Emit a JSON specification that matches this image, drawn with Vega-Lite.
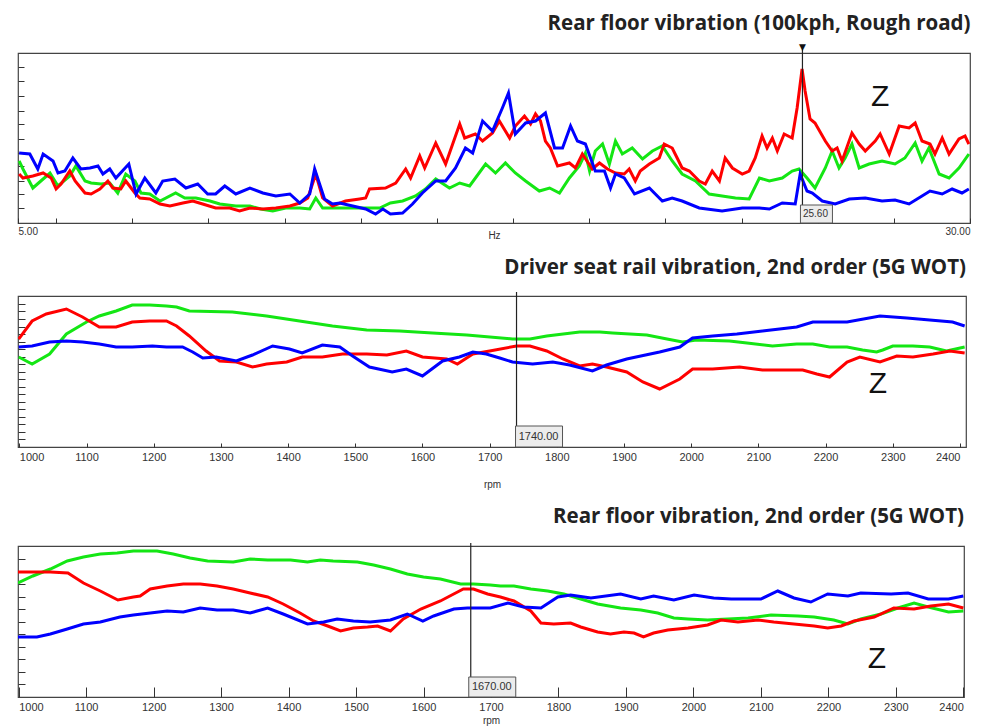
{
"$schema": "https://vega.github.io/schema/vega-lite/v6.json",
"padding": {"left": 16, "right": 10, "top": 12, "bottom": 0},
"background": "white",
"config": {
  "view": {"stroke": "#444", "strokeWidth": 1.2},
  "axis": {"domain": false, "grid": false, "tickColor": "#333", "tickRound": true, "labelFont": "Liberation Sans", "labelFontSize": 11, "labelColor": "#333", "titleFont": "Liberation Sans", "titleFontSize": 10, "titleFontWeight": "normal", "titleColor": "#333"},
  "title": {"anchor": "end", "font": "Open Sans", "fontSize": 20.5, "fontWeight": "bold", "color": "#222", "offset": 13},
  "concat": {"spacing": 16}
},
"datasets": {
"p1": [
{"hz":5.03,"a":62,"ch":"G"},{"hz":5.13,"a":54,"ch":"G"},{"hz":5.39,"a":35,"ch":"G"},{"hz":5.60,"a":42,"ch":"G"},{"hz":5.84,"a":50,"ch":"G"},{"hz":6.05,"a":37,"ch":"G"},{"hz":6.36,"a":47,"ch":"G"},{"hz":6.52,"a":57,"ch":"G"},{"hz":6.76,"a":42,"ch":"G"},{"hz":6.92,"a":40,"ch":"G"},{"hz":7.18,"a":39,"ch":"G"},{"hz":7.41,"a":40,"ch":"G"},{"hz":7.62,"a":30,"ch":"G"},{"hz":7.83,"a":49,"ch":"G"},{"hz":8.07,"a":42,"ch":"G"},{"hz":8.23,"a":30,"ch":"G"},{"hz":8.46,"a":29,"ch":"G"},{"hz":8.73,"a":22,"ch":"G"},{"hz":9.14,"a":30,"ch":"G"},{"hz":9.38,"a":25,"ch":"G"},{"hz":9.67,"a":25,"ch":"G"},{"hz":10.04,"a":22,"ch":"G"},{"hz":10.30,"a":19,"ch":"G"},{"hz":10.72,"a":17,"ch":"G"},{"hz":11.09,"a":17,"ch":"G"},{"hz":11.37,"a":14,"ch":"G"},{"hz":11.69,"a":12,"ch":"G"},{"hz":12.03,"a":15,"ch":"G"},{"hz":12.40,"a":15,"ch":"G"},{"hz":12.66,"a":14,"ch":"G"},{"hz":12.82,"a":25,"ch":"G"},{"hz":13.00,"a":15,"ch":"G"},{"hz":13.34,"a":15,"ch":"G"},{"hz":13.71,"a":15,"ch":"G"},{"hz":14.13,"a":15,"ch":"G"},{"hz":14.50,"a":15,"ch":"G"},{"hz":14.78,"a":20,"ch":"G"},{"hz":15.10,"a":22,"ch":"G"},{"hz":15.44,"a":27,"ch":"G"},{"hz":15.70,"a":34,"ch":"G"},{"hz":15.97,"a":44,"ch":"G"},{"hz":16.33,"a":35,"ch":"G"},{"hz":16.60,"a":40,"ch":"G"},{"hz":16.86,"a":37,"ch":"G"},{"hz":17.28,"a":59,"ch":"G"},{"hz":17.54,"a":50,"ch":"G"},{"hz":17.80,"a":60,"ch":"G"},{"hz":18.06,"a":50,"ch":"G"},{"hz":18.33,"a":42,"ch":"G"},{"hz":18.69,"a":32,"ch":"G"},{"hz":18.96,"a":35,"ch":"G"},{"hz":19.22,"a":30,"ch":"G"},{"hz":19.48,"a":45,"ch":"G"},{"hz":19.74,"a":57,"ch":"G"},{"hz":19.90,"a":70,"ch":"G"},{"hz":20.01,"a":52,"ch":"G"},{"hz":20.16,"a":72,"ch":"G"},{"hz":20.35,"a":79,"ch":"G"},{"hz":20.53,"a":59,"ch":"G"},{"hz":20.69,"a":82,"ch":"G"},{"hz":20.87,"a":69,"ch":"G"},{"hz":21.13,"a":75,"ch":"G"},{"hz":21.40,"a":64,"ch":"G"},{"hz":21.66,"a":72,"ch":"G"},{"hz":21.92,"a":77,"ch":"G"},{"hz":22.18,"a":62,"ch":"G"},{"hz":22.44,"a":49,"ch":"G"},{"hz":22.79,"a":42,"ch":"G"},{"hz":23.15,"a":29,"ch":"G"},{"hz":23.49,"a":27,"ch":"G"},{"hz":23.84,"a":25,"ch":"G"},{"hz":24.20,"a":24,"ch":"G"},{"hz":24.47,"a":45,"ch":"G"},{"hz":24.73,"a":42,"ch":"G"},{"hz":25.07,"a":45,"ch":"G"},{"hz":25.33,"a":52,"ch":"G"},{"hz":25.51,"a":54,"ch":"G"},{"hz":25.72,"a":45,"ch":"G"},{"hz":25.93,"a":35,"ch":"G"},{"hz":26.20,"a":55,"ch":"G"},{"hz":26.38,"a":72,"ch":"G"},{"hz":26.56,"a":55,"ch":"G"},{"hz":26.72,"a":65,"ch":"G"},{"hz":26.90,"a":79,"ch":"G"},{"hz":27.09,"a":55,"ch":"G"},{"hz":27.35,"a":59,"ch":"G"},{"hz":27.69,"a":62,"ch":"G"},{"hz":28.03,"a":59,"ch":"G"},{"hz":28.29,"a":65,"ch":"G"},{"hz":28.56,"a":80,"ch":"G"},{"hz":28.74,"a":62,"ch":"G"},{"hz":28.92,"a":75,"ch":"G"},{"hz":29.19,"a":49,"ch":"G"},{"hz":29.45,"a":45,"ch":"G"},{"hz":29.71,"a":55,"ch":"G"},{"hz":29.97,"a":69,"ch":"G"},
{"hz":5.03,"a":49,"ch":"R"},{"hz":5.13,"a":45,"ch":"R"},{"hz":5.39,"a":47,"ch":"R"},{"hz":5.66,"a":50,"ch":"R"},{"hz":5.87,"a":45,"ch":"R"},{"hz":6.00,"a":34,"ch":"R"},{"hz":6.13,"a":39,"ch":"R"},{"hz":6.36,"a":52,"ch":"R"},{"hz":6.50,"a":42,"ch":"R"},{"hz":6.76,"a":30,"ch":"R"},{"hz":6.92,"a":29,"ch":"R"},{"hz":7.15,"a":34,"ch":"R"},{"hz":7.36,"a":42,"ch":"R"},{"hz":7.49,"a":35,"ch":"R"},{"hz":7.70,"a":34,"ch":"R"},{"hz":7.83,"a":42,"ch":"R"},{"hz":8.07,"a":30,"ch":"R"},{"hz":8.20,"a":25,"ch":"R"},{"hz":8.46,"a":24,"ch":"R"},{"hz":8.73,"a":19,"ch":"R"},{"hz":8.99,"a":17,"ch":"R"},{"hz":9.33,"a":20,"ch":"R"},{"hz":9.59,"a":22,"ch":"R"},{"hz":9.85,"a":19,"ch":"R"},{"hz":10.19,"a":15,"ch":"R"},{"hz":10.56,"a":15,"ch":"R"},{"hz":10.82,"a":12,"ch":"R"},{"hz":11.09,"a":15,"ch":"R"},{"hz":11.43,"a":14,"ch":"R"},{"hz":11.77,"a":15,"ch":"R"},{"hz":12.14,"a":17,"ch":"R"},{"hz":12.40,"a":20,"ch":"R"},{"hz":12.61,"a":25,"ch":"R"},{"hz":12.82,"a":49,"ch":"R"},{"hz":13.00,"a":25,"ch":"R"},{"hz":13.26,"a":17,"ch":"R"},{"hz":13.60,"a":22,"ch":"R"},{"hz":13.97,"a":24,"ch":"R"},{"hz":14.13,"a":25,"ch":"R"},{"hz":14.23,"a":34,"ch":"R"},{"hz":14.65,"a":35,"ch":"R"},{"hz":14.92,"a":40,"ch":"R"},{"hz":15.18,"a":54,"ch":"R"},{"hz":15.31,"a":45,"ch":"R"},{"hz":15.55,"a":67,"ch":"R"},{"hz":15.68,"a":55,"ch":"R"},{"hz":15.97,"a":80,"ch":"R"},{"hz":16.23,"a":59,"ch":"R"},{"hz":16.60,"a":99,"ch":"R"},{"hz":16.73,"a":85,"ch":"R"},{"hz":17.01,"a":89,"ch":"R"},{"hz":17.20,"a":82,"ch":"R"},{"hz":17.46,"a":90,"ch":"R"},{"hz":17.64,"a":102,"ch":"R"},{"hz":17.91,"a":85,"ch":"R"},{"hz":18.06,"a":97,"ch":"R"},{"hz":18.30,"a":107,"ch":"R"},{"hz":18.46,"a":99,"ch":"R"},{"hz":18.59,"a":109,"ch":"R"},{"hz":18.72,"a":102,"ch":"R"},{"hz":18.85,"a":82,"ch":"R"},{"hz":18.98,"a":75,"ch":"R"},{"hz":19.17,"a":57,"ch":"R"},{"hz":19.48,"a":60,"ch":"R"},{"hz":19.64,"a":55,"ch":"R"},{"hz":19.82,"a":69,"ch":"R"},{"hz":20.08,"a":54,"ch":"R"},{"hz":20.27,"a":60,"ch":"R"},{"hz":20.48,"a":54,"ch":"R"},{"hz":20.69,"a":50,"ch":"R"},{"hz":20.92,"a":49,"ch":"R"},{"hz":21.05,"a":54,"ch":"R"},{"hz":21.21,"a":42,"ch":"R"},{"hz":21.34,"a":52,"ch":"R"},{"hz":21.58,"a":59,"ch":"R"},{"hz":21.84,"a":65,"ch":"R"},{"hz":21.97,"a":79,"ch":"R"},{"hz":22.18,"a":75,"ch":"R"},{"hz":22.31,"a":65,"ch":"R"},{"hz":22.44,"a":55,"ch":"R"},{"hz":22.63,"a":52,"ch":"R"},{"hz":22.89,"a":42,"ch":"R"},{"hz":23.05,"a":39,"ch":"R"},{"hz":23.23,"a":52,"ch":"R"},{"hz":23.42,"a":42,"ch":"R"},{"hz":23.57,"a":65,"ch":"R"},{"hz":23.76,"a":55,"ch":"R"},{"hz":24.02,"a":49,"ch":"R"},{"hz":24.20,"a":52,"ch":"R"},{"hz":24.36,"a":65,"ch":"R"},{"hz":24.54,"a":87,"ch":"R"},{"hz":24.67,"a":75,"ch":"R"},{"hz":24.81,"a":85,"ch":"R"},{"hz":24.94,"a":72,"ch":"R"},{"hz":25.12,"a":89,"ch":"R"},{"hz":25.33,"a":85,"ch":"R"},{"hz":25.46,"a":115,"ch":"R"},{"hz":25.59,"a":154,"ch":"R"},{"hz":25.67,"a":132,"ch":"R"},{"hz":25.80,"a":104,"ch":"R"},{"hz":25.93,"a":100,"ch":"R"},{"hz":26.20,"a":82,"ch":"R"},{"hz":26.38,"a":72,"ch":"R"},{"hz":26.51,"a":75,"ch":"R"},{"hz":26.64,"a":62,"ch":"R"},{"hz":26.90,"a":90,"ch":"R"},{"hz":27.09,"a":79,"ch":"R"},{"hz":27.25,"a":72,"ch":"R"},{"hz":27.51,"a":82,"ch":"R"},{"hz":27.64,"a":89,"ch":"R"},{"hz":27.88,"a":69,"ch":"R"},{"hz":28.14,"a":97,"ch":"R"},{"hz":28.40,"a":95,"ch":"R"},{"hz":28.56,"a":100,"ch":"R"},{"hz":28.74,"a":82,"ch":"R"},{"hz":28.95,"a":79,"ch":"R"},{"hz":29.08,"a":69,"ch":"R"},{"hz":29.27,"a":85,"ch":"R"},{"hz":29.45,"a":69,"ch":"R"},{"hz":29.71,"a":84,"ch":"R"},{"hz":29.87,"a":87,"ch":"R"},{"hz":29.97,"a":79,"ch":"R"},
{"hz":5.03,"a":70,"ch":"B"},{"hz":5.31,"a":69,"ch":"B"},{"hz":5.52,"a":54,"ch":"B"},{"hz":5.66,"a":69,"ch":"B"},{"hz":5.92,"a":62,"ch":"B"},{"hz":6.05,"a":50,"ch":"B"},{"hz":6.23,"a":52,"ch":"B"},{"hz":6.44,"a":65,"ch":"B"},{"hz":6.65,"a":54,"ch":"B"},{"hz":6.89,"a":55,"ch":"B"},{"hz":7.10,"a":57,"ch":"B"},{"hz":7.23,"a":49,"ch":"B"},{"hz":7.41,"a":54,"ch":"B"},{"hz":7.57,"a":45,"ch":"B"},{"hz":7.91,"a":59,"ch":"B"},{"hz":8.10,"a":29,"ch":"B"},{"hz":8.33,"a":45,"ch":"B"},{"hz":8.62,"a":30,"ch":"B"},{"hz":8.80,"a":42,"ch":"B"},{"hz":9.12,"a":44,"ch":"B"},{"hz":9.41,"a":35,"ch":"B"},{"hz":9.72,"a":39,"ch":"B"},{"hz":9.98,"a":29,"ch":"B"},{"hz":10.19,"a":29,"ch":"B"},{"hz":10.43,"a":37,"ch":"B"},{"hz":10.72,"a":29,"ch":"B"},{"hz":11.09,"a":35,"ch":"B"},{"hz":11.43,"a":30,"ch":"B"},{"hz":11.77,"a":27,"ch":"B"},{"hz":12.14,"a":29,"ch":"B"},{"hz":12.40,"a":20,"ch":"B"},{"hz":12.66,"a":29,"ch":"B"},{"hz":12.79,"a":54,"ch":"B"},{"hz":12.92,"a":39,"ch":"B"},{"hz":13.05,"a":24,"ch":"B"},{"hz":13.26,"a":19,"ch":"B"},{"hz":13.45,"a":20,"ch":"B"},{"hz":13.79,"a":17,"ch":"B"},{"hz":14.13,"a":14,"ch":"B"},{"hz":14.39,"a":9,"ch":"B"},{"hz":14.58,"a":14,"ch":"B"},{"hz":14.78,"a":9,"ch":"B"},{"hz":15.10,"a":10,"ch":"B"},{"hz":15.36,"a":19,"ch":"B"},{"hz":15.62,"a":30,"ch":"B"},{"hz":15.97,"a":42,"ch":"B"},{"hz":16.23,"a":42,"ch":"B"},{"hz":16.49,"a":55,"ch":"B"},{"hz":16.75,"a":75,"ch":"B"},{"hz":16.94,"a":70,"ch":"B"},{"hz":17.20,"a":102,"ch":"B"},{"hz":17.46,"a":92,"ch":"B"},{"hz":17.72,"a":115,"ch":"B"},{"hz":17.88,"a":130,"ch":"B"},{"hz":18.06,"a":89,"ch":"B"},{"hz":18.33,"a":100,"ch":"B"},{"hz":18.59,"a":102,"ch":"B"},{"hz":18.85,"a":110,"ch":"B"},{"hz":19.09,"a":75,"ch":"B"},{"hz":19.30,"a":75,"ch":"B"},{"hz":19.51,"a":97,"ch":"B"},{"hz":19.69,"a":82,"ch":"B"},{"hz":19.90,"a":79,"ch":"B"},{"hz":20.16,"a":52,"ch":"B"},{"hz":20.40,"a":52,"ch":"B"},{"hz":20.56,"a":35,"ch":"B"},{"hz":20.69,"a":49,"ch":"B"},{"hz":20.92,"a":45,"ch":"B"},{"hz":21.19,"a":29,"ch":"B"},{"hz":21.58,"a":35,"ch":"B"},{"hz":21.92,"a":22,"ch":"B"},{"hz":22.18,"a":25,"ch":"B"},{"hz":22.44,"a":22,"ch":"B"},{"hz":22.89,"a":15,"ch":"B"},{"hz":23.49,"a":12,"ch":"B"},{"hz":24.02,"a":15,"ch":"B"},{"hz":24.47,"a":15,"ch":"B"},{"hz":24.73,"a":14,"ch":"B"},{"hz":25.07,"a":20,"ch":"B"},{"hz":25.41,"a":19,"ch":"B"},{"hz":25.54,"a":49,"ch":"B"},{"hz":25.72,"a":32,"ch":"B"},{"hz":25.86,"a":30,"ch":"B"},{"hz":26.12,"a":22,"ch":"B"},{"hz":26.46,"a":19,"ch":"B"},{"hz":26.83,"a":24,"ch":"B"},{"hz":27.25,"a":25,"ch":"B"},{"hz":27.69,"a":22,"ch":"B"},{"hz":28.03,"a":23,"ch":"B"},{"hz":28.40,"a":19,"ch":"B"},{"hz":28.74,"a":27,"ch":"B"},{"hz":28.95,"a":32,"ch":"B"},{"hz":29.27,"a":29,"ch":"B"},{"hz":29.53,"a":34,"ch":"B"},{"hz":29.79,"a":30,"ch":"B"},{"hz":29.97,"a":34,"ch":"B"}
],
"p2": [
{"rpm":999,"a":90,"ch":"G"},{"rpm":1019,"a":83,"ch":"G"},{"rpm":1045,"a":93,"ch":"G"},{"rpm":1070,"a":113,"ch":"G"},{"rpm":1100,"a":125,"ch":"G"},{"rpm":1119,"a":131,"ch":"G"},{"rpm":1144,"a":136,"ch":"G"},{"rpm":1168,"a":142,"ch":"G"},{"rpm":1194,"a":142,"ch":"G"},{"rpm":1219,"a":141,"ch":"G"},{"rpm":1234,"a":140,"ch":"G"},{"rpm":1253,"a":136,"ch":"G"},{"rpm":1317,"a":135,"ch":"G"},{"rpm":1368,"a":131,"ch":"G"},{"rpm":1417,"a":126,"ch":"G"},{"rpm":1466,"a":121,"ch":"G"},{"rpm":1517,"a":117,"ch":"G"},{"rpm":1566,"a":116,"ch":"G"},{"rpm":1615,"a":114,"ch":"G"},{"rpm":1666,"a":112,"ch":"G"},{"rpm":1734,"a":108,"ch":"G"},{"rpm":1760,"a":108,"ch":"G"},{"rpm":1785,"a":111,"ch":"G"},{"rpm":1834,"a":115,"ch":"G"},{"rpm":1864,"a":115,"ch":"G"},{"rpm":1883,"a":114,"ch":"G"},{"rpm":1934,"a":112,"ch":"G"},{"rpm":1964,"a":108,"ch":"G"},{"rpm":1987,"a":105,"ch":"G"},{"rpm":2008,"a":107,"ch":"G"},{"rpm":2057,"a":106,"ch":"G"},{"rpm":2083,"a":104,"ch":"G"},{"rpm":2121,"a":101,"ch":"G"},{"rpm":2157,"a":103,"ch":"G"},{"rpm":2181,"a":103,"ch":"G"},{"rpm":2206,"a":100,"ch":"G"},{"rpm":2232,"a":100,"ch":"G"},{"rpm":2255,"a":97,"ch":"G"},{"rpm":2276,"a":95,"ch":"G"},{"rpm":2285,"a":97,"ch":"G"},{"rpm":2300,"a":101,"ch":"G"},{"rpm":2330,"a":101,"ch":"G"},{"rpm":2355,"a":100,"ch":"G"},{"rpm":2380,"a":96,"ch":"G"},{"rpm":2407,"a":100,"ch":"G"},
{"rpm":999,"a":108,"ch":"R"},{"rpm":1019,"a":126,"ch":"R"},{"rpm":1040,"a":133,"ch":"R"},{"rpm":1070,"a":138,"ch":"R"},{"rpm":1094,"a":130,"ch":"R"},{"rpm":1119,"a":120,"ch":"R"},{"rpm":1144,"a":120,"ch":"R"},{"rpm":1168,"a":125,"ch":"R"},{"rpm":1194,"a":126,"ch":"R"},{"rpm":1219,"a":126,"ch":"R"},{"rpm":1234,"a":121,"ch":"R"},{"rpm":1253,"a":111,"ch":"R"},{"rpm":1278,"a":96,"ch":"R"},{"rpm":1298,"a":86,"ch":"R"},{"rpm":1323,"a":85,"ch":"R"},{"rpm":1347,"a":80,"ch":"R"},{"rpm":1368,"a":83,"ch":"R"},{"rpm":1398,"a":85,"ch":"R"},{"rpm":1421,"a":90,"ch":"R"},{"rpm":1451,"a":90,"ch":"R"},{"rpm":1481,"a":93,"ch":"R"},{"rpm":1517,"a":93,"ch":"R"},{"rpm":1547,"a":92,"ch":"R"},{"rpm":1576,"a":96,"ch":"R"},{"rpm":1600,"a":90,"ch":"R"},{"rpm":1636,"a":88,"ch":"R"},{"rpm":1652,"a":83,"ch":"R"},{"rpm":1675,"a":93,"ch":"R"},{"rpm":1700,"a":96,"ch":"R"},{"rpm":1740,"a":101,"ch":"R"},{"rpm":1760,"a":101,"ch":"R"},{"rpm":1785,"a":96,"ch":"R"},{"rpm":1809,"a":88,"ch":"R"},{"rpm":1834,"a":81,"ch":"R"},{"rpm":1853,"a":83,"ch":"R"},{"rpm":1874,"a":80,"ch":"R"},{"rpm":1904,"a":75,"ch":"R"},{"rpm":1928,"a":65,"ch":"R"},{"rpm":1953,"a":58,"ch":"R"},{"rpm":1983,"a":68,"ch":"R"},{"rpm":2002,"a":78,"ch":"R"},{"rpm":2032,"a":78,"ch":"R"},{"rpm":2072,"a":80,"ch":"R"},{"rpm":2106,"a":77,"ch":"R"},{"rpm":2132,"a":77,"ch":"R"},{"rpm":2166,"a":77,"ch":"R"},{"rpm":2187,"a":73,"ch":"R"},{"rpm":2206,"a":70,"ch":"R"},{"rpm":2232,"a":85,"ch":"R"},{"rpm":2251,"a":90,"ch":"R"},{"rpm":2281,"a":85,"ch":"R"},{"rpm":2306,"a":91,"ch":"R"},{"rpm":2330,"a":90,"ch":"R"},{"rpm":2360,"a":93,"ch":"R"},{"rpm":2385,"a":96,"ch":"R"},{"rpm":2407,"a":94,"ch":"R"},
{"rpm":999,"a":100,"ch":"B"},{"rpm":1019,"a":101,"ch":"B"},{"rpm":1045,"a":105,"ch":"B"},{"rpm":1070,"a":106,"ch":"B"},{"rpm":1094,"a":105,"ch":"B"},{"rpm":1119,"a":103,"ch":"B"},{"rpm":1144,"a":100,"ch":"B"},{"rpm":1168,"a":100,"ch":"B"},{"rpm":1198,"a":101,"ch":"B"},{"rpm":1219,"a":100,"ch":"B"},{"rpm":1243,"a":100,"ch":"B"},{"rpm":1258,"a":95,"ch":"B"},{"rpm":1273,"a":89,"ch":"B"},{"rpm":1293,"a":90,"ch":"B"},{"rpm":1323,"a":86,"ch":"B"},{"rpm":1347,"a":92,"ch":"B"},{"rpm":1377,"a":101,"ch":"B"},{"rpm":1402,"a":98,"ch":"B"},{"rpm":1421,"a":94,"ch":"B"},{"rpm":1451,"a":102,"ch":"B"},{"rpm":1477,"a":100,"ch":"B"},{"rpm":1496,"a":91,"ch":"B"},{"rpm":1521,"a":80,"ch":"B"},{"rpm":1555,"a":75,"ch":"B"},{"rpm":1576,"a":78,"ch":"B"},{"rpm":1600,"a":71,"ch":"B"},{"rpm":1630,"a":86,"ch":"B"},{"rpm":1655,"a":90,"ch":"B"},{"rpm":1675,"a":95,"ch":"B"},{"rpm":1695,"a":93,"ch":"B"},{"rpm":1715,"a":89,"ch":"B"},{"rpm":1734,"a":85,"ch":"B"},{"rpm":1764,"a":83,"ch":"B"},{"rpm":1794,"a":85,"ch":"B"},{"rpm":1819,"a":82,"ch":"B"},{"rpm":1853,"a":76,"ch":"B"},{"rpm":1874,"a":82,"ch":"B"},{"rpm":1904,"a":88,"ch":"B"},{"rpm":1953,"a":95,"ch":"B"},{"rpm":1983,"a":100,"ch":"B"},{"rpm":2002,"a":109,"ch":"B"},{"rpm":2032,"a":111,"ch":"B"},{"rpm":2068,"a":113,"ch":"B"},{"rpm":2106,"a":116,"ch":"B"},{"rpm":2157,"a":120,"ch":"B"},{"rpm":2181,"a":125,"ch":"B"},{"rpm":2232,"a":125,"ch":"B"},{"rpm":2281,"a":131,"ch":"B"},{"rpm":2321,"a":129,"ch":"B"},{"rpm":2355,"a":127,"ch":"B"},{"rpm":2389,"a":125,"ch":"B"},{"rpm":2407,"a":121,"ch":"B"}
],
"p3": [
{"rpm":999,"a":114,"ch":"G"},{"rpm":1021,"a":121,"ch":"G"},{"rpm":1047,"a":128,"ch":"G"},{"rpm":1072,"a":136,"ch":"G"},{"rpm":1096,"a":140,"ch":"G"},{"rpm":1121,"a":143,"ch":"G"},{"rpm":1146,"a":144,"ch":"G"},{"rpm":1170,"a":146,"ch":"G"},{"rpm":1205,"a":146,"ch":"G"},{"rpm":1229,"a":143,"ch":"G"},{"rpm":1254,"a":139,"ch":"G"},{"rpm":1280,"a":136,"ch":"G"},{"rpm":1318,"a":135,"ch":"G"},{"rpm":1343,"a":138,"ch":"G"},{"rpm":1369,"a":137,"ch":"G"},{"rpm":1403,"a":137,"ch":"G"},{"rpm":1428,"a":135,"ch":"G"},{"rpm":1447,"a":137,"ch":"G"},{"rpm":1466,"a":136,"ch":"G"},{"rpm":1502,"a":135,"ch":"G"},{"rpm":1526,"a":132,"ch":"G"},{"rpm":1551,"a":128,"ch":"G"},{"rpm":1576,"a":123,"ch":"G"},{"rpm":1600,"a":120,"ch":"G"},{"rpm":1625,"a":118,"ch":"G"},{"rpm":1655,"a":113,"ch":"G"},{"rpm":1674,"a":113,"ch":"G"},{"rpm":1699,"a":112,"ch":"G"},{"rpm":1714,"a":111,"ch":"G"},{"rpm":1734,"a":111,"ch":"G"},{"rpm":1759,"a":108,"ch":"G"},{"rpm":1784,"a":106,"ch":"G"},{"rpm":1808,"a":103,"ch":"G"},{"rpm":1833,"a":98,"ch":"G"},{"rpm":1858,"a":93,"ch":"G"},{"rpm":1892,"a":89,"ch":"G"},{"rpm":1922,"a":87,"ch":"G"},{"rpm":1947,"a":84,"ch":"G"},{"rpm":1971,"a":79,"ch":"G"},{"rpm":1992,"a":78,"ch":"G"},{"rpm":2021,"a":77,"ch":"G"},{"rpm":2051,"a":78,"ch":"G"},{"rpm":2081,"a":79,"ch":"G"},{"rpm":2115,"a":82,"ch":"G"},{"rpm":2155,"a":81,"ch":"G"},{"rpm":2179,"a":80,"ch":"G"},{"rpm":2208,"a":77,"ch":"G"},{"rpm":2229,"a":73,"ch":"G"},{"rpm":2248,"a":78,"ch":"G"},{"rpm":2278,"a":83,"ch":"G"},{"rpm":2303,"a":89,"ch":"G"},{"rpm":2327,"a":94,"ch":"G"},{"rpm":2348,"a":90,"ch":"G"},{"rpm":2378,"a":85,"ch":"G"},{"rpm":2400,"a":86,"ch":"G"},
{"rpm":999,"a":125,"ch":"R"},{"rpm":1021,"a":125,"ch":"R"},{"rpm":1047,"a":125,"ch":"R"},{"rpm":1073,"a":124,"ch":"R"},{"rpm":1096,"a":114,"ch":"R"},{"rpm":1121,"a":106,"ch":"R"},{"rpm":1147,"a":97,"ch":"R"},{"rpm":1170,"a":100,"ch":"R"},{"rpm":1180,"a":101,"ch":"R"},{"rpm":1195,"a":108,"ch":"R"},{"rpm":1220,"a":111,"ch":"R"},{"rpm":1244,"a":113,"ch":"R"},{"rpm":1269,"a":113,"ch":"R"},{"rpm":1294,"a":111,"ch":"R"},{"rpm":1318,"a":108,"ch":"R"},{"rpm":1343,"a":104,"ch":"R"},{"rpm":1369,"a":100,"ch":"R"},{"rpm":1392,"a":93,"ch":"R"},{"rpm":1417,"a":84,"ch":"R"},{"rpm":1437,"a":76,"ch":"R"},{"rpm":1458,"a":71,"ch":"R"},{"rpm":1477,"a":66,"ch":"R"},{"rpm":1496,"a":69,"ch":"R"},{"rpm":1517,"a":70,"ch":"R"},{"rpm":1532,"a":71,"ch":"R"},{"rpm":1551,"a":66,"ch":"R"},{"rpm":1570,"a":78,"ch":"R"},{"rpm":1596,"a":88,"ch":"R"},{"rpm":1625,"a":96,"ch":"R"},{"rpm":1659,"a":108,"ch":"R"},{"rpm":1674,"a":108,"ch":"R"},{"rpm":1695,"a":103,"ch":"R"},{"rpm":1714,"a":100,"ch":"R"},{"rpm":1734,"a":96,"ch":"R"},{"rpm":1759,"a":86,"ch":"R"},{"rpm":1774,"a":74,"ch":"R"},{"rpm":1793,"a":73,"ch":"R"},{"rpm":1818,"a":74,"ch":"R"},{"rpm":1833,"a":70,"ch":"R"},{"rpm":1858,"a":65,"ch":"R"},{"rpm":1877,"a":63,"ch":"R"},{"rpm":1897,"a":65,"ch":"R"},{"rpm":1912,"a":64,"ch":"R"},{"rpm":1926,"a":60,"ch":"R"},{"rpm":1941,"a":64,"ch":"R"},{"rpm":1962,"a":67,"ch":"R"},{"rpm":1992,"a":69,"ch":"R"},{"rpm":2021,"a":72,"ch":"R"},{"rpm":2041,"a":77,"ch":"R"},{"rpm":2066,"a":75,"ch":"R"},{"rpm":2096,"a":77,"ch":"R"},{"rpm":2119,"a":75,"ch":"R"},{"rpm":2149,"a":73,"ch":"R"},{"rpm":2179,"a":71,"ch":"R"},{"rpm":2199,"a":69,"ch":"R"},{"rpm":2219,"a":71,"ch":"R"},{"rpm":2238,"a":76,"ch":"R"},{"rpm":2268,"a":80,"ch":"R"},{"rpm":2297,"a":89,"ch":"R"},{"rpm":2327,"a":88,"ch":"R"},{"rpm":2352,"a":91,"ch":"R"},{"rpm":2378,"a":93,"ch":"R"},{"rpm":2400,"a":89,"ch":"R"},
{"rpm":999,"a":60,"ch":"B"},{"rpm":1027,"a":60,"ch":"B"},{"rpm":1047,"a":63,"ch":"B"},{"rpm":1072,"a":68,"ch":"B"},{"rpm":1096,"a":73,"ch":"B"},{"rpm":1121,"a":75,"ch":"B"},{"rpm":1150,"a":80,"ch":"B"},{"rpm":1170,"a":82,"ch":"B"},{"rpm":1195,"a":84,"ch":"B"},{"rpm":1220,"a":86,"ch":"B"},{"rpm":1244,"a":85,"ch":"B"},{"rpm":1269,"a":89,"ch":"B"},{"rpm":1294,"a":87,"ch":"B"},{"rpm":1318,"a":87,"ch":"B"},{"rpm":1343,"a":84,"ch":"B"},{"rpm":1369,"a":89,"ch":"B"},{"rpm":1392,"a":83,"ch":"B"},{"rpm":1428,"a":73,"ch":"B"},{"rpm":1452,"a":75,"ch":"B"},{"rpm":1472,"a":78,"ch":"B"},{"rpm":1496,"a":76,"ch":"B"},{"rpm":1521,"a":75,"ch":"B"},{"rpm":1551,"a":77,"ch":"B"},{"rpm":1576,"a":83,"ch":"B"},{"rpm":1599,"a":76,"ch":"B"},{"rpm":1615,"a":81,"ch":"B"},{"rpm":1645,"a":88,"ch":"B"},{"rpm":1665,"a":89,"ch":"B"},{"rpm":1699,"a":89,"ch":"B"},{"rpm":1725,"a":94,"ch":"B"},{"rpm":1748,"a":90,"ch":"B"},{"rpm":1774,"a":89,"ch":"B"},{"rpm":1799,"a":100,"ch":"B"},{"rpm":1818,"a":102,"ch":"B"},{"rpm":1848,"a":99,"ch":"B"},{"rpm":1892,"a":103,"ch":"B"},{"rpm":1922,"a":98,"ch":"B"},{"rpm":1941,"a":101,"ch":"B"},{"rpm":1971,"a":97,"ch":"B"},{"rpm":2001,"a":102,"ch":"B"},{"rpm":2030,"a":99,"ch":"B"},{"rpm":2056,"a":98,"ch":"B"},{"rpm":2100,"a":98,"ch":"B"},{"rpm":2125,"a":106,"ch":"B"},{"rpm":2149,"a":99,"ch":"B"},{"rpm":2174,"a":95,"ch":"B"},{"rpm":2199,"a":103,"ch":"B"},{"rpm":2229,"a":101,"ch":"B"},{"rpm":2248,"a":104,"ch":"B"},{"rpm":2293,"a":103,"ch":"B"},{"rpm":2318,"a":104,"ch":"B"},{"rpm":2348,"a":98,"ch":"B"},{"rpm":2378,"a":98,"ch":"B"},{"rpm":2400,"a":101,"ch":"B"}
]
},
"vconcat": [
{
  "width": 952, "height": 170,
  "title": {"text": "Rear floor vibration (100kph, Rough road)", "offset": 9},
  "layer": [
    {"data": {"name": "p1"}, "mark": {"type": "line", "strokeWidth": 3, "clip": true},
     "encoding": {
       "x": {"field": "hz", "type": "quantitative", "scale": {"domain": [5, 30], "nice": false, "zero": false},
             "axis": {"values": [5,6,8,10,12,14,16,18,20,22,24,26,28,30], "tickCount": 60, "labelExpr": "datum.value == 5 || datum.value == 30 ? format(datum.value, '.2f') : ''", "labelFlush": 10, "tickSize": -5, "labelPadding": 8, "labelFontSize": 10, "title": "Hz", "titleY": 7, "titleBaseline": "top", "titleFontSize": 10}},
       "y": {"field": "a", "type": "quantitative", "scale": {"domain": [0, 170], "nice": false},
             "axis": {"values": [15,29,42,57,70,84,99,112,127,142,156], "tickCount": 60, "labels": false, "tickSize": -6, "title": null}},
       "color": {"field": "ch", "type": "nominal", "scale": {"domain": ["G", "R", "B"], "range": ["#14e614", "#ff0000", "#0000ff"]}, "legend": null}
     }},
    {"data": {"values": [{"hz": 25.6, "label": "25.60"}]},
     "layer": [
       {"mark": {"type": "rule", "color": "#222", "strokeWidth": 1.2, "yOffset": -8}, "encoding": {"x": {"field": "hz", "type": "quantitative"}, "y": {"datum": 170}, "y2": {"datum": 0}}},
       {"mark": {"type": "text", "text": "▼", "font": "DejaVu Sans", "fontSize": 9, "baseline": "bottom", "color": "#111", "dy": -1}, "encoding": {"x": {"field": "hz", "type": "quantitative"}, "y": {"datum": 170}}},
       {"mark": {"type": "rect", "fill": "#ececec", "stroke": "#555", "strokeWidth": 1, "xOffset": -2, "x2Offset": 30, "y2Offset": -18}, "encoding": {"x": {"field": "hz", "type": "quantitative"}, "x2": {"field": "hz"}, "y": {"datum": 0}, "y2": {"datum": 0}}},
       {"mark": {"type": "text", "font": "Liberation Sans", "fontSize": 10, "color": "#333", "dx": 13, "dy": -9, "align": "center", "baseline": "middle"}, "encoding": {"x": {"field": "hz", "type": "quantitative"}, "y": {"datum": 0}, "text": {"field": "label"}}}
     ]},
    {"data": {"values": [{"hz": 27.64, "a": 126, "t": "Z"}]},
     "mark": {"type": "text", "font": "Liberation Sans", "fontSize": 30, "color": "#111"},
     "encoding": {"x": {"field": "hz", "type": "quantitative"}, "y": {"field": "a", "type": "quantitative"}, "text": {"field": "t"}}}
  ]
},
{
  "width": 948, "height": 151,
  "title": {"text": "Driver seat rail vibration, 2nd order (5G WOT)"},
  "layer": [
    {"data": {"name": "p2"}, "mark": {"type": "line", "strokeWidth": 3, "clip": true},
     "encoding": {
       "x": {"field": "rpm", "type": "quantitative", "scale": {"domain": [998, 2409], "nice": false, "zero": false},
             "axis": {"values": [1000,1100,1200,1300,1400,1500,1600,1700,1800,1900,2000,2100,2200,2300,2400], "tickCount": 60, "format": "d", "labelFlush": 10, "tickSize": -4, "labelPadding": 8, "title": "rpm", "titlePadding": 17}},
       "y": {"field": "a", "type": "quantitative", "scale": {"domain": [0, 151], "nice": false},
             "axis": {"values": [8,15.5,23,30.5,38,45.5,53,60.5,68,75.5,83,90.5,98,105.5,113,120.5,128,135.5,143], "tickCount": 60, "labels": false, "tickSize": -7, "title": null}},
       "color": {"field": "ch", "type": "nominal", "scale": {"domain": ["G", "R", "B"], "range": ["#14e614", "#ff0000", "#0000ff"]}, "legend": null}
     }},
    {"data": {"values": [{"rpm": 1740, "label": "1740.00"}]},
     "layer": [
       {"mark": {"type": "rule", "color": "#222", "strokeWidth": 1.2, "yOffset": -4}, "encoding": {"x": {"field": "rpm", "type": "quantitative"}, "y": {"datum": 151}, "y2": {"datum": 0}}},
       {"mark": {"type": "rect", "fill": "#ececec", "stroke": "#555", "strokeWidth": 1, "xOffset": -1, "x2Offset": 46, "y2Offset": -21}, "encoding": {"x": {"field": "rpm", "type": "quantitative"}, "x2": {"field": "rpm"}, "y": {"datum": 0}, "y2": {"datum": 0}}},
       {"mark": {"type": "text", "font": "Liberation Sans", "fontSize": 11, "color": "#333", "dx": 22, "dy": -10, "align": "center", "baseline": "middle"}, "encoding": {"x": {"field": "rpm", "type": "quantitative"}, "y": {"datum": 0}, "text": {"field": "label"}}}
     ]},
    {"data": {"values": [{"rpm": 2278, "a": 63, "t": "Z"}]},
     "mark": {"type": "text", "font": "Liberation Sans", "fontSize": 30, "color": "#111"},
     "encoding": {"x": {"field": "rpm", "type": "quantitative"}, "y": {"field": "a", "type": "quantitative"}, "text": {"field": "t"}}}
  ]
},
{
  "width": 946, "height": 151,
  "title": {"text": "Rear floor vibration, 2nd order (5G WOT)", "offset": 15},
  "layer": [
    {"data": {"name": "p3"}, "mark": {"type": "line", "strokeWidth": 3, "clip": true},
     "encoding": {
       "x": {"field": "rpm", "type": "quantitative", "scale": {"domain": [999, 2401], "nice": false, "zero": false},
             "axis": {"values": [1000,1100,1200,1300,1400,1500,1600,1700,1800,1900,2000,2100,2200,2300,2400], "tickCount": 60, "format": "d", "labelFlush": 10, "tickSize": -10, "labelPadding": 14, "title": "rpm", "titlePadding": 3}},
       "y": {"field": "a", "type": "quantitative", "scale": {"domain": [0, 151], "nice": false},
             "axis": {"values": [13,25.5,38,50.5,63,75.5,88,100.5,113,125.5,138], "tickCount": 60, "labels": false, "tickSize": -7, "title": null}},
       "color": {"field": "ch", "type": "nominal", "scale": {"domain": ["G", "R", "B"], "range": ["#14e614", "#ff0000", "#0000ff"]}, "legend": null}
     }},
    {"data": {"values": [{"rpm": 1670, "label": "1670.00"}]},
     "layer": [
       {"mark": {"type": "rule", "color": "#222", "strokeWidth": 1.2, "yOffset": -3}, "encoding": {"x": {"field": "rpm", "type": "quantitative"}, "y": {"datum": 151}, "y2": {"datum": 0}}},
       {"mark": {"type": "rect", "fill": "#ececec", "stroke": "#555", "strokeWidth": 1, "xOffset": -2, "x2Offset": 45, "y2Offset": -20}, "encoding": {"x": {"field": "rpm", "type": "quantitative"}, "x2": {"field": "rpm"}, "y": {"datum": 0}, "y2": {"datum": 0}}},
       {"mark": {"type": "text", "font": "Liberation Sans", "fontSize": 11, "color": "#333", "dx": 21, "dy": -10, "align": "center", "baseline": "middle"}, "encoding": {"x": {"field": "rpm", "type": "quantitative"}, "y": {"datum": 0}, "text": {"field": "label"}}}
     ]},
    {"data": {"values": [{"rpm": 2272, "a": 38, "t": "Z"}]},
     "mark": {"type": "text", "font": "Liberation Sans", "fontSize": 30, "color": "#111"},
     "encoding": {"x": {"field": "rpm", "type": "quantitative"}, "y": {"field": "a", "type": "quantitative"}, "text": {"field": "t"}}}
  ]
}
]
}
